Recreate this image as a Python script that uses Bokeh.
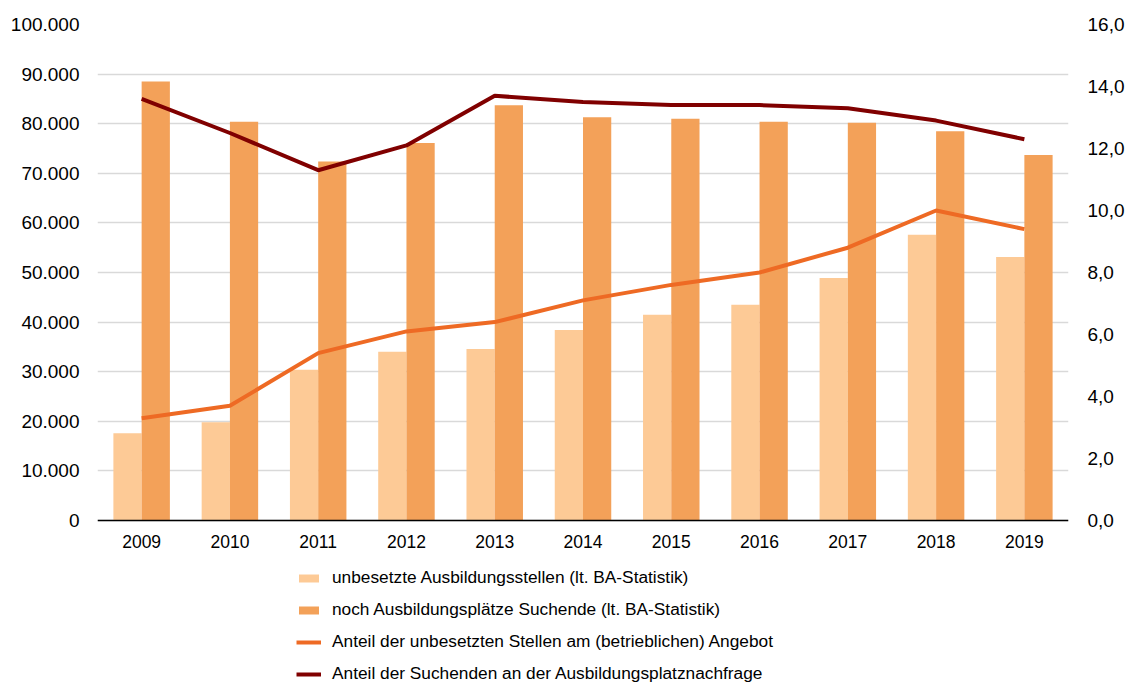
from bokeh.plotting import figure
from bokeh.models import (FactorRange, Range1d, LinearAxis, FixedTicker, Legend,
                          LegendItem, ColumnDataSource, Span)
from bokeh.transform import dodge
from bokeh.core.properties import value
from bokeh.embed import file_html
from bokeh.resources import INLINE

years = ["2009", "2010", "2011", "2012", "2013", "2014", "2015", "2016", "2017", "2018", "2019"]
unbesetzt = [17600, 19800, 30400, 34000, 34600, 38400, 41500, 43500, 48900, 57600, 53100]
suchende = [88500, 80400, 72400, 76100, 83700, 81300, 81000, 80400, 80200, 78500, 73700]
anteil_unbesetzt = [3.3, 3.7, 5.4, 6.1, 6.4, 7.1, 7.6, 8.0, 8.8, 10.0, 9.4]
anteil_suchende = [13.6, 12.5, 11.3, 12.1, 13.7, 13.5, 13.4, 13.4, 13.3, 12.9, 12.3]

left_ticks = [0, 10000, 20000, 30000, 40000, 50000, 60000, 70000, 80000, 90000, 100000]
left_labels = ["0", "10.000", "20.000", "30.000", "40.000", "50.000", "60.000",
               "70.000", "80.000", "90.000", "100.000"]
right_ticks = [0, 2, 4, 6, 8, 10, 12, 14, 16]
right_labels = ["0,0", "2,0", "4,0", "6,0", "8,0", "10,0", "12,0", "14,0", "16,0"]

legend_labels = [
    "unbesetzte Ausbildungsstellen (lt. BA-Statistik)",
    "noch Ausbildungsplätze Suchende (lt. BA-Statistik)",
    "Anteil der unbesetzten Stellen am (betrieblichen) Angebot",
    "Anteil der Suchenden an der Ausbildungsplatznachfrage",
]

C_LIGHT = "#FDCA96"
C_DARK = "#F3A159"
C_ORANGE = "#EE6A24"
C_RED = "#800000"
FONT = "Liberation Sans"

# layout (pixels): value area 496 px tall, extra space below zero for the legend
VALUE_PX = 496
BELOW_PX = 164
L_MAX, R_MAX = 100000, 16
l_min = -L_MAX * BELOW_PX / VALUE_PX
r_min = -R_MAX * BELOW_PX / VALUE_PX

src = ColumnDataSource(dict(year=years, unbesetzt=unbesetzt, suchende=suchende,
                            a1=anteil_unbesetzt, a2=anteil_suchende,
                            base=[0] * len(years)))

p = figure(x_range=FactorRange(factors=years), y_range=Range1d(l_min, L_MAX),
           x_axis_location=None,
           frame_width=971, frame_height=VALUE_PX + BELOW_PX,
           min_border_left=97, min_border_right=55, min_border_top=24, min_border_bottom=0,
           output_backend="svg", toolbar_location=None)
p.extra_y_ranges = {"pct": Range1d(r_min, R_MAX)}

r1 = p.vbar(x=dodge("year", -0.16, range=p.x_range), top="unbesetzt", width=0.32,
            source=src, fill_color=C_LIGHT, line_color=None)
r2 = p.vbar(x=dodge("year", 0.16, range=p.x_range), top="suchende", width=0.32,
            source=src, fill_color=C_DARK, line_color=None)
r3 = p.line(x="year", y="a1", source=src, y_range_name="pct", line_color=C_ORANGE,
            line_width=4)
r4 = p.line(x="year", y="a2", source=src, y_range_name="pct", line_color=C_RED,
            line_width=4)

# category labels under the zero line
p.text(x="year", y="base", text="year", source=src, text_align="center",
       text_baseline="middle", y_offset=21, text_font=value(FONT),
       text_font_size="17.5px", text_color="#000000")

# zero (category axis) line
p.add_layout(Span(location=0, dimension="width", line_color="#000000", line_width=1.5))

p.outline_line_color = None
for g in p.grid:
    if g.dimension == 0:
        g.grid_line_color = None
    else:
        g.grid_line_color = "#D9D9D9"
        g.grid_line_width = 1.5
        g.ticker = FixedTicker(ticks=left_ticks)

# left axis
ly = p.yaxis[0]
ly.ticker = FixedTicker(ticks=left_ticks)
ly.major_label_overrides = dict(zip(left_ticks, left_labels))
ly.axis_line_color = None
ly.major_tick_line_color = None
ly.minor_tick_line_color = None
ly.major_tick_out = 0
ly.major_tick_in = 0
ly.major_label_standoff = 18
ly.major_label_text_font = FONT
ly.major_label_text_font_size = "19px"
ly.major_label_text_color = "#000000"

# right axis
ry = LinearAxis(y_range_name="pct", ticker=FixedTicker(ticks=right_ticks))
ry.major_label_overrides = dict(zip(right_ticks, right_labels))
ry.axis_line_color = None
ry.major_tick_line_color = None
ry.minor_tick_line_color = None
ry.major_tick_out = 0
ry.major_tick_in = 0
ry.major_label_standoff = 19
ry.major_label_text_font = FONT
ry.major_label_text_font_size = "19px"
ry.major_label_text_color = "#000000"
p.add_layout(ry, "right")

legend = Legend(items=[LegendItem(label=legend_labels[0], renderers=[r1]),
                       LegendItem(label=legend_labels[1], renderers=[r2]),
                       LegendItem(label=legend_labels[2], renderers=[r3]),
                       LegendItem(label=legend_labels[3], renderers=[r4])],
                location=(199, 0), orientation="vertical",
                glyph_width=25, glyph_height=10, label_height=20, spacing=11,
                label_standoff=11, padding=0, margin=0,
                border_line_color=None, background_fill_alpha=0,
                label_text_font=FONT, label_text_font_size="17.3px",
                label_text_color="#000000")
p.add_layout(legend, "center")

open("out.html", "w").write(file_html(p, INLINE))
